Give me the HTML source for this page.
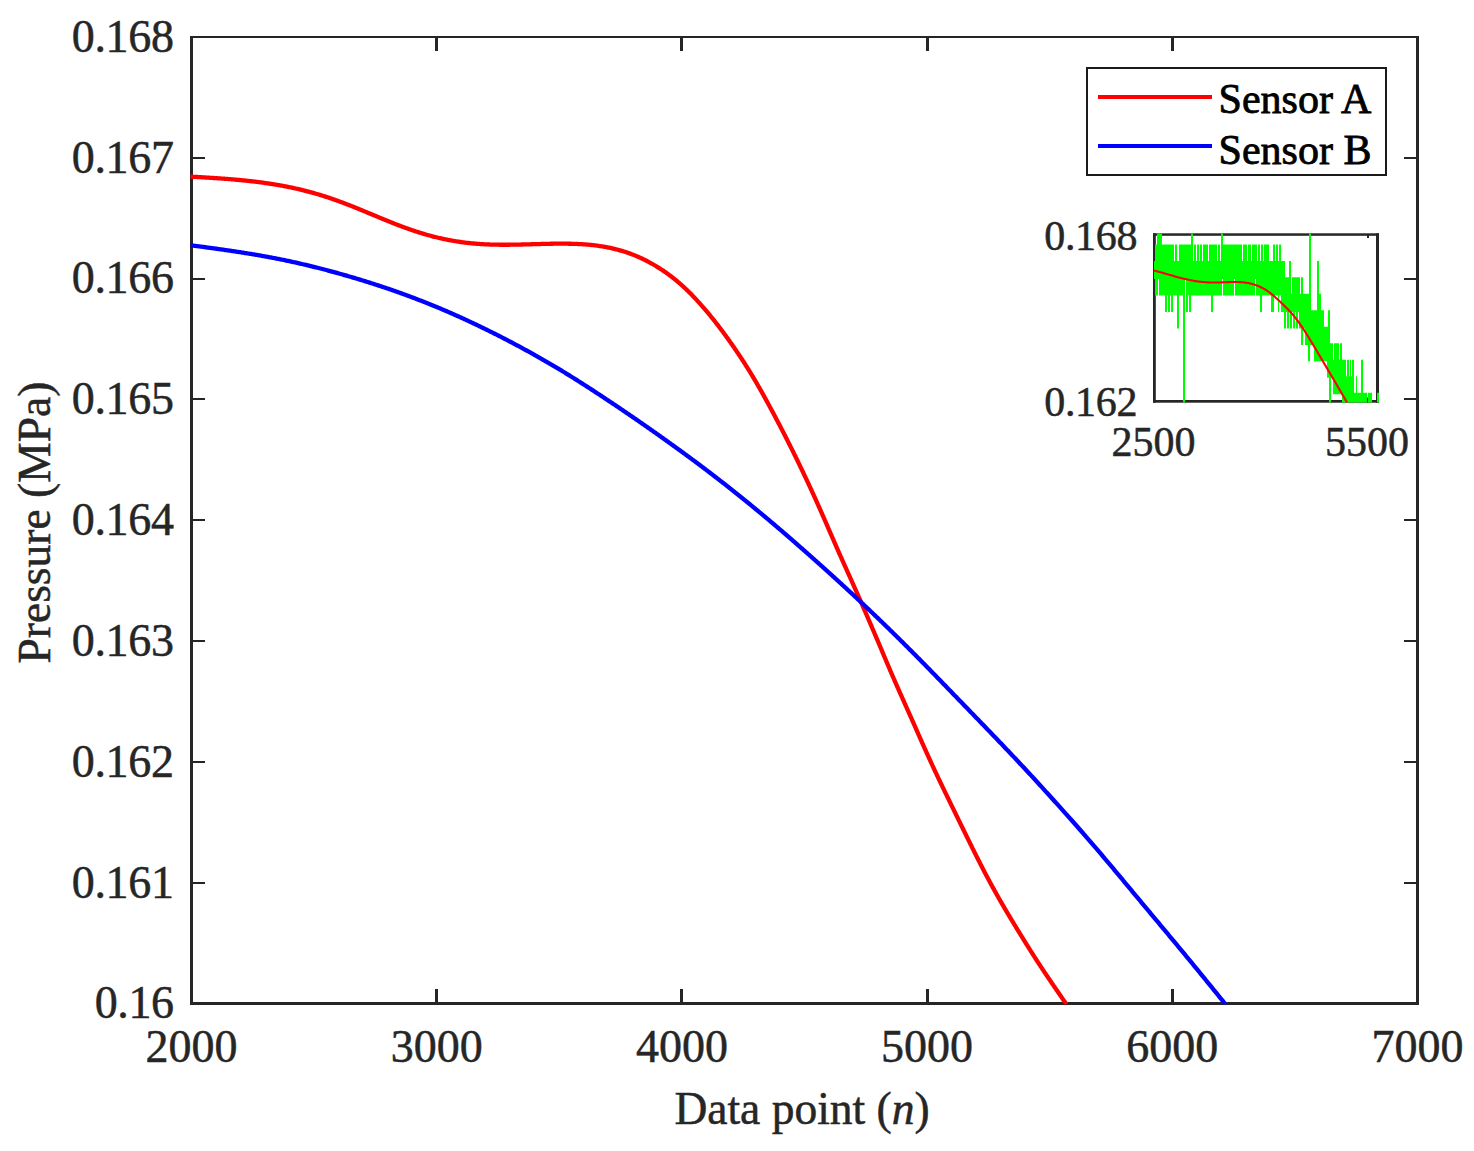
<!DOCTYPE html>
<html><head><meta charset="utf-8"><title>Pressure chart</title><style>
html,body{margin:0;padding:0;background:#fff;overflow:hidden;}
svg{display:block;}
text{font-family:"Liberation Serif",serif;}
</style></head><body>
<svg width="1474" height="1151" viewBox="0 0 1474 1151"><defs><clipPath id="ax"><rect x="190.6" y="36" width="1228" height="968.5"/></clipPath><clipPath id="ins"><rect x="1153" y="233.5" width="226" height="169"/></clipPath></defs><rect width="1474" height="1151" fill="#fff"/><g fill="#262626"><rect x="190" y="36" width="1229" height="2"/><rect x="190" y="1002" width="1229" height="3"/><rect x="190" y="36" width="3" height="969"/><rect x="1416" y="36" width="3" height="969"/><rect x="435" y="989" width="3" height="14"/><rect x="435" y="37" width="3" height="14"/><rect x="680" y="989" width="3" height="14"/><rect x="680" y="37" width="3" height="14"/><rect x="926" y="989" width="3" height="14"/><rect x="926" y="37" width="3" height="14"/><rect x="1171" y="989" width="3" height="14"/><rect x="1171" y="37" width="3" height="14"/><rect x="192" y="882" width="13" height="2"/><rect x="1404" y="882" width="13" height="2"/><rect x="192" y="761" width="13" height="2"/><rect x="1404" y="761" width="13" height="2"/><rect x="192" y="640" width="13" height="2"/><rect x="1404" y="640" width="13" height="2"/><rect x="192" y="519" width="13" height="2"/><rect x="1404" y="519" width="13" height="2"/><rect x="192" y="398" width="13" height="2"/><rect x="1404" y="398" width="13" height="2"/><rect x="192" y="278" width="13" height="2"/><rect x="1404" y="278" width="13" height="2"/><rect x="192" y="157" width="13" height="2"/><rect x="1404" y="157" width="13" height="2"/></g><g clip-path="url(#ax)" fill="none" stroke-width="4.3" stroke-linejoin="round"><polyline points="185.00,176.67 191.52,176.67 192.52,176.73 193.52,176.79 194.52,176.84 195.52,176.90 196.52,176.96 197.52,177.02 198.52,177.07 199.52,177.13 200.52,177.19 201.52,177.25 202.51,177.31 203.51,177.37 204.51,177.43 205.51,177.49 206.51,177.55 207.51,177.61 208.51,177.67 209.51,177.73 210.51,177.80 211.50,177.86 212.50,177.92 213.50,177.99 214.50,178.05 215.50,178.12 216.50,178.19 217.50,178.25 218.50,178.32 219.49,178.39 220.49,178.46 221.49,178.53 222.49,178.61 223.49,178.68 224.48,178.75 225.48,178.83 226.48,178.91 227.48,178.98 228.48,179.06 229.47,179.14 230.47,179.22 231.47,179.31 232.46,179.39 233.46,179.47 234.46,179.56 235.46,179.65 236.45,179.74 237.45,179.83 238.44,179.92 239.44,180.01 240.44,180.11 241.43,180.20 242.43,180.30 243.42,180.40 244.42,180.50 245.41,180.60 246.41,180.71 247.40,180.81 248.40,180.92 249.39,181.03 250.39,181.14 251.38,181.25 252.37,181.36 253.37,181.48 254.36,181.60 255.35,181.72 256.35,181.84 257.34,181.96 258.33,182.09 259.32,182.21 260.31,182.34 261.31,182.47 262.30,182.61 263.29,182.74 264.28,182.88 265.27,183.02 266.26,183.16 267.25,183.30 268.24,183.45 269.22,183.60 270.21,183.75 271.20,183.90 272.19,184.05 273.17,184.21 274.16,184.37 275.15,184.53 276.13,184.69 277.12,184.86 278.10,185.03 279.09,185.20 280.07,185.37 281.05,185.55 282.04,185.73 283.02,185.91 284.00,186.09 284.98,186.28 285.96,186.47 286.94,186.66 287.92,186.86 288.90,187.05 289.88,187.25 290.86,187.45 291.83,187.66 292.81,187.87 293.79,188.08 294.76,188.29 295.74,188.51 296.71,188.73 297.68,188.95 298.66,189.17 299.63,189.40 300.60,189.63 301.57,189.86 302.54,190.10 303.51,190.34 304.47,190.58 305.44,190.83 306.41,191.07 307.37,191.32 308.34,191.58 309.30,191.83 310.27,192.09 311.23,192.36 312.19,192.62 313.15,192.89 314.11,193.16 315.07,193.44 316.03,193.71 316.99,193.99 317.95,194.28 318.90,194.56 319.86,194.85 320.81,195.14 321.76,195.44 322.72,195.73 323.67,196.03 324.62,196.34 325.57,196.64 326.52,196.95 327.47,197.26 328.42,197.58 329.36,197.89 330.31,198.21 331.25,198.54 332.20,198.86 333.14,199.19 334.08,199.52 335.02,199.86 335.96,200.19 336.90,200.53 337.84,200.87 338.78,201.21 339.72,201.56 340.66,201.90 341.59,202.25 342.53,202.61 343.46,202.96 344.40,203.31 345.33,203.67 346.27,204.03 347.20,204.39 348.13,204.75 349.06,205.12 349.99,205.48 350.93,205.85 351.86,206.22 352.79,206.59 353.72,206.96 354.64,207.33 355.57,207.71 356.50,208.08 357.43,208.46 358.36,208.84 359.28,209.21 360.21,209.59 361.14,209.97 362.06,210.35 362.99,210.73 363.92,211.12 364.84,211.50 365.77,211.88 366.69,212.27 367.62,212.65 368.54,213.03 369.47,213.42 370.39,213.80 371.32,214.19 372.24,214.57 373.17,214.96 374.09,215.34 375.02,215.73 375.94,216.11 376.87,216.50 377.79,216.88 378.72,217.27 379.64,217.65 380.57,218.04 381.50,218.42 382.42,218.80 383.35,219.18 384.27,219.56 385.20,219.94 386.13,220.32 387.06,220.70 387.99,221.08 388.91,221.45 389.84,221.83 390.77,222.20 391.70,222.57 392.63,222.94 393.56,223.31 394.49,223.68 395.43,224.04 396.36,224.40 397.29,224.77 398.23,225.13 399.16,225.48 400.10,225.84 401.03,226.19 401.97,226.54 402.91,226.89 403.84,227.24 404.78,227.58 405.72,227.92 406.66,228.26 407.61,228.60 408.55,228.93 409.49,229.26 410.43,229.59 411.38,229.92 412.32,230.24 413.27,230.56 414.22,230.88 415.17,231.19 416.11,231.51 417.06,231.81 418.01,232.12 418.97,232.42 419.92,232.72 420.87,233.02 421.83,233.31 422.78,233.60 423.74,233.88 424.69,234.16 425.65,234.44 426.61,234.72 427.57,234.99 428.53,235.26 429.49,235.52 430.46,235.78 431.42,236.04 432.38,236.30 433.35,236.55 434.32,236.79 435.28,237.03 436.25,237.27 437.22,237.51 438.19,237.74 439.16,237.97 440.13,238.19 441.10,238.41 442.07,238.63 443.05,238.84 444.02,239.05 445.00,239.25 445.97,239.46 446.95,239.65 447.93,239.85 448.91,240.03 449.89,240.22 450.87,240.40 451.85,240.58 452.83,240.75 453.81,240.92 454.79,241.09 455.78,241.25 456.76,241.40 457.74,241.56 458.73,241.71 459.72,241.85 460.70,242.00 461.69,242.13 462.68,242.27 463.66,242.40 464.65,242.53 465.64,242.65 466.63,242.77 467.62,242.88 468.61,242.99 469.60,243.10 470.60,243.21 471.59,243.31 472.58,243.40 473.57,243.49 474.57,243.58 475.56,243.67 476.56,243.75 477.55,243.83 478.55,243.90 479.54,243.97 480.54,244.04 481.53,244.11 482.53,244.17 483.53,244.22 484.52,244.28 485.52,244.33 486.52,244.38 487.52,244.42 488.52,244.46 489.51,244.50 490.51,244.54 491.51,244.57 492.51,244.60 493.51,244.63 494.51,244.65 495.51,244.67 496.51,244.69 497.51,244.71 498.51,244.72 499.51,244.73 500.51,244.74 501.51,244.75 502.51,244.75 503.51,244.75 504.51,244.75 505.52,244.75 506.52,244.75 507.52,244.74 508.52,244.73 509.52,244.73 510.52,244.72 511.53,244.70 512.53,244.69 513.53,244.68 514.53,244.66 515.53,244.64 516.54,244.62 517.54,244.61 518.54,244.58 519.54,244.56 520.55,244.54 521.55,244.52 522.55,244.49 523.55,244.47 524.56,244.44 525.56,244.42 526.56,244.39 527.57,244.36 528.57,244.34 529.57,244.31 530.58,244.28 531.58,244.25 532.58,244.22 533.59,244.20 534.59,244.17 535.59,244.14 536.60,244.11 537.60,244.08 538.61,244.06 539.61,244.03 540.61,244.00 541.62,243.97 542.62,243.95 543.62,243.92 544.63,243.90 545.63,243.87 546.64,243.85 547.64,243.83 548.64,243.81 549.65,243.79 550.65,243.77 551.65,243.75 552.66,243.74 553.66,243.72 554.66,243.71 555.67,243.70 556.67,243.69 557.67,243.68 558.68,243.67 559.68,243.67 560.68,243.67 561.68,243.67 562.69,243.67 563.69,243.67 564.69,243.68 565.69,243.69 566.69,243.70 567.70,243.71 568.70,243.73 569.70,243.74 570.70,243.77 571.70,243.79 572.70,243.82 573.70,243.85 574.70,243.88 575.70,243.92 576.70,243.96 577.70,244.00 578.70,244.04 579.70,244.09 580.70,244.15 581.69,244.21 582.69,244.27 583.69,244.33 584.69,244.40 585.68,244.48 586.68,244.55 587.67,244.64 588.67,244.72 589.66,244.82 590.65,244.91 591.64,245.01 592.64,245.12 593.63,245.23 594.62,245.35 595.61,245.47 596.60,245.59 597.58,245.73 598.57,245.86 599.56,246.01 600.54,246.15 601.53,246.31 602.51,246.46 603.49,246.63 604.47,246.80 605.45,246.97 606.43,247.15 607.41,247.34 608.39,247.53 609.36,247.73 610.34,247.94 611.31,248.15 612.28,248.37 613.25,248.59 614.22,248.82 615.18,249.05 616.15,249.29 617.11,249.54 618.07,249.80 619.03,250.06 619.99,250.33 620.94,250.60 621.90,250.88 622.85,251.17 623.80,251.46 624.75,251.76 625.69,252.07 626.64,252.38 627.58,252.70 628.52,253.03 629.45,253.36 630.39,253.70 631.32,254.05 632.25,254.40 633.18,254.76 634.10,255.13 635.02,255.50 635.94,255.88 636.86,256.27 637.77,256.66 638.69,257.06 639.59,257.46 640.50,257.87 641.40,258.29 642.31,258.71 643.20,259.14 644.10,259.58 644.99,260.02 645.88,260.47 646.77,260.92 647.65,261.38 648.53,261.85 649.41,262.32 650.29,262.79 651.16,263.28 652.03,263.76 652.89,264.26 653.76,264.76 654.62,265.26 655.47,265.77 656.33,266.29 657.18,266.81 658.02,267.33 658.87,267.86 659.71,268.40 660.55,268.94 661.38,269.49 662.21,270.04 663.04,270.59 663.87,271.15 664.69,271.72 665.51,272.29 666.32,272.87 667.13,273.45 667.94,274.03 668.74,274.62 669.55,275.21 670.34,275.81 671.14,276.42 671.93,277.02 672.72,277.64 673.50,278.25 674.28,278.87 675.06,279.50 675.83,280.13 676.60,280.77 677.37,281.40 678.13,282.05 678.89,282.70 679.65,283.35 680.40,284.00 681.15,284.66 681.89,285.33 682.63,286.00 683.37,286.67 684.10,287.35 684.83,288.03 685.56,288.71 686.29,289.40 687.01,290.09 687.73,290.78 688.44,291.48 689.15,292.18 689.86,292.89 690.57,293.60 691.27,294.31 691.97,295.02 692.67,295.74 693.36,296.46 694.05,297.18 694.74,297.91 695.43,298.64 696.11,299.37 696.79,300.10 697.47,300.84 698.14,301.58 698.81,302.32 699.48,303.06 700.15,303.81 700.82,304.56 701.48,305.31 702.14,306.06 702.80,306.81 703.46,307.57 704.11,308.33 704.77,309.09 705.42,309.85 706.06,310.61 706.71,311.38 707.35,312.15 708.00,312.91 708.64,313.69 709.27,314.46 709.91,315.23 710.54,316.01 711.18,316.79 711.81,317.56 712.44,318.34 713.06,319.13 713.69,319.91 714.31,320.70 714.93,321.48 715.55,322.27 716.17,323.06 716.78,323.85 717.39,324.64 718.01,325.43 718.62,326.23 719.22,327.03 719.83,327.82 720.44,328.62 721.04,329.42 721.64,330.22 722.24,331.02 722.84,331.83 723.43,332.63 724.03,333.44 724.62,334.24 725.21,335.05 725.80,335.86 726.39,336.67 726.98,337.48 727.56,338.30 728.15,339.11 728.73,339.92 729.31,340.74 729.89,341.56 730.46,342.37 731.04,343.19 731.62,344.01 732.19,344.83 732.76,345.65 733.33,346.48 733.90,347.30 734.47,348.12 735.03,348.95 735.60,349.77 736.16,350.60 736.72,351.43 737.28,352.26 737.84,353.09 738.40,353.92 738.95,354.75 739.51,355.58 740.06,356.42 740.61,357.25 741.16,358.08 741.71,358.92 742.26,359.76 742.80,360.60 743.34,361.43 743.89,362.27 744.43,363.12 744.97,363.96 745.50,364.80 746.04,365.64 746.57,366.49 747.11,367.33 747.64,368.18 748.17,369.03 748.69,369.88 749.22,370.73 749.74,371.58 750.27,372.43 750.79,373.28 751.31,374.13 751.82,374.99 752.34,375.84 752.85,376.70 753.37,377.56 753.88,378.42 754.39,379.28 754.89,380.14 755.40,381.00 755.90,381.86 756.41,382.73 756.91,383.59 757.41,384.46 757.91,385.32 758.40,386.19 758.90,387.06 759.40,387.92 759.89,388.79 760.38,389.66 760.87,390.53 761.36,391.40 761.85,392.28 762.34,393.15 762.83,394.02 763.32,394.89 763.80,395.77 764.28,396.64 764.77,397.52 765.25,398.39 765.73,399.27 766.21,400.14 766.69,401.02 767.17,401.90 767.65,402.78 768.13,403.65 768.61,404.53 769.09,405.41 769.56,406.29 770.04,407.17 770.51,408.05 770.99,408.93 771.46,409.81 771.93,410.69 772.40,411.57 772.88,412.46 773.35,413.34 773.82,414.22 774.29,415.10 774.76,415.99 775.23,416.87 775.69,417.75 776.16,418.64 776.63,419.52 777.09,420.41 777.56,421.29 778.02,422.18 778.49,423.06 778.95,423.95 779.42,424.84 779.88,425.72 780.34,426.61 780.80,427.50 781.26,428.39 781.72,429.27 782.18,430.16 782.64,431.05 783.10,431.94 783.55,432.83 784.01,433.72 784.47,434.61 784.92,435.50 785.38,436.39 785.83,437.28 786.29,438.17 786.74,439.06 787.19,439.96 787.64,440.85 788.09,441.74 788.54,442.63 788.99,443.53 789.44,444.42 789.89,445.31 790.34,446.21 790.79,447.10 791.24,448.00 791.68,448.89 792.13,449.79 792.57,450.68 793.02,451.58 793.46,452.47 793.90,453.37 794.34,454.27 794.79,455.16 795.23,456.06 795.67,456.96 796.11,457.86 796.55,458.76 796.98,459.66 797.42,460.55 797.86,461.45 798.29,462.35 798.73,463.25 799.17,464.15 799.60,465.05 800.03,465.96 800.47,466.86 800.90,467.76 801.33,468.66 801.76,469.56 802.19,470.46 802.62,471.37 803.05,472.27 803.48,473.17 803.91,474.08 804.34,474.98 804.77,475.88 805.19,476.79 805.62,477.69 806.05,478.60 806.47,479.50 806.90,480.41 807.32,481.31 807.74,482.22 808.17,483.13 808.59,484.03 809.01,484.94 809.43,485.85 809.85,486.75 810.27,487.66 810.69,488.57 811.11,489.48 811.53,490.39 811.94,491.29 812.36,492.20 812.78,493.11 813.19,494.02 813.61,494.93 814.02,495.84 814.43,496.75 814.85,497.66 815.26,498.57 815.67,499.49 816.08,500.40 816.49,501.31 816.90,502.22 817.31,503.13 817.72,504.05 818.13,504.96 818.53,505.87 818.94,506.79 819.35,507.70 819.75,508.61 820.16,509.53 820.56,510.44 820.97,511.36 821.37,512.27 821.78,513.19 822.18,514.10 822.58,515.02 822.98,515.93 823.38,516.85 823.79,517.76 824.19,518.68 824.59,519.60 824.99,520.51 825.39,521.43 825.79,522.35 826.18,523.26 826.58,524.18 826.98,525.10 827.38,526.01 827.78,526.93 828.18,527.85 828.58,528.77 828.97,529.68 829.37,530.60 829.77,531.52 830.17,532.43 830.56,533.35 830.96,534.27 831.36,535.19 831.76,536.10 832.16,537.02 832.56,537.94 832.95,538.86 833.35,539.77 833.75,540.69 834.15,541.61 834.55,542.52 834.95,543.44 835.35,544.36 835.75,545.27 836.15,546.19 836.55,547.10 836.95,548.02 837.35,548.94 837.75,549.85 838.16,550.77 838.56,551.68 838.96,552.60 839.36,553.51 839.77,554.43 840.17,555.34 840.57,556.26 840.98,557.17 841.38,558.09 841.79,559.00 842.20,559.91 842.60,560.83 843.01,561.74 843.42,562.65 843.82,563.57 844.23,564.48 844.64,565.39 845.05,566.30 845.46,567.22 845.87,568.13 846.28,569.04 846.68,569.95 847.09,570.86 847.50,571.78 847.91,572.69 848.32,573.60 848.74,574.51 849.15,575.42 849.56,576.33 849.97,577.24 850.38,578.16 850.79,579.07 851.20,579.98 851.61,580.89 852.02,581.80 852.42,582.72 852.83,583.63 853.24,584.54 853.65,585.45 854.06,586.36 854.47,587.28 854.88,588.19 855.28,589.10 855.69,590.01 856.10,590.93 856.50,591.84 856.91,592.75 857.31,593.67 857.72,594.58 858.12,595.49 858.53,596.41 858.93,597.32 859.34,598.24 859.74,599.15 860.14,600.07 860.54,600.98 860.94,601.90 861.34,602.81 861.74,603.73 862.14,604.64 862.54,605.56 862.94,606.47 863.34,607.39 863.74,608.31 864.14,609.22 864.53,610.14 864.93,611.06 865.33,611.97 865.73,612.89 866.12,613.81 866.52,614.72 866.91,615.64 867.31,616.56 867.71,617.47 868.10,618.39 868.50,619.31 868.89,620.23 869.29,621.14 869.68,622.06 870.08,622.98 870.47,623.90 870.86,624.81 871.26,625.73 871.65,626.65 872.05,627.57 872.44,628.48 872.84,629.40 873.23,630.32 873.62,631.24 874.02,632.15 874.41,633.07 874.80,633.99 875.20,634.91 875.59,635.83 875.98,636.74 876.37,637.66 876.76,638.58 877.15,639.50 877.54,640.42 877.93,641.34 878.32,642.26 878.71,643.18 879.10,644.10 879.49,645.02 879.88,645.94 880.26,646.86 880.65,647.78 881.04,648.70 881.42,649.62 881.81,650.54 882.20,651.46 882.58,652.38 882.97,653.30 883.36,654.22 883.74,655.15 884.13,656.07 884.52,656.99 884.90,657.91 885.29,658.83 885.68,659.75 886.07,660.67 886.46,661.59 886.84,662.51 887.23,663.43 887.62,664.35 888.01,665.27 888.40,666.19 888.80,667.11 889.19,668.03 889.58,668.95 889.97,669.87 890.36,670.78 890.76,671.70 891.15,672.62 891.55,673.54 891.94,674.46 892.34,675.37 892.74,676.29 893.13,677.21 893.53,678.12 893.93,679.04 894.33,679.96 894.73,680.87 895.13,681.79 895.53,682.70 895.93,683.62 896.34,684.53 896.74,685.45 897.14,686.36 897.54,687.28 897.95,688.19 898.35,689.11 898.76,690.02 899.16,690.93 899.57,691.85 899.97,692.76 900.38,693.67 900.79,694.59 901.19,695.50 901.60,696.41 902.01,697.33 902.41,698.24 902.82,699.15 903.23,700.07 903.64,700.98 904.05,701.89 904.45,702.80 904.86,703.72 905.27,704.63 905.68,705.54 906.09,706.45 906.50,707.37 906.90,708.28 907.31,709.19 907.72,710.10 908.13,711.02 908.54,711.93 908.94,712.84 909.35,713.76 909.76,714.67 910.16,715.58 910.57,716.50 910.98,717.41 911.38,718.32 911.79,719.24 912.19,720.15 912.60,721.07 913.00,721.98 913.40,722.89 913.81,723.81 914.21,724.72 914.62,725.64 915.02,726.55 915.42,727.47 915.83,728.38 916.23,729.30 916.63,730.21 917.04,731.13 917.44,732.04 917.84,732.96 918.25,733.87 918.65,734.79 919.05,735.70 919.45,736.62 919.86,737.53 920.26,738.44 920.67,739.36 921.07,740.27 921.47,741.19 921.88,742.10 922.28,743.02 922.69,743.93 923.10,744.84 923.50,745.76 923.91,746.67 924.32,747.58 924.72,748.50 925.13,749.41 925.54,750.32 925.95,751.23 926.36,752.14 926.77,753.06 927.18,753.97 927.59,754.88 928.01,755.79 928.42,756.70 928.83,757.61 929.25,758.52 929.66,759.43 930.08,760.34 930.50,761.25 930.91,762.15 931.33,763.06 931.75,763.97 932.17,764.88 932.59,765.79 933.01,766.69 933.43,767.60 933.85,768.51 934.27,769.41 934.70,770.32 935.12,771.22 935.55,772.13 935.97,773.03 936.40,773.94 936.82,774.84 937.25,775.75 937.68,776.65 938.10,777.55 938.53,778.46 938.96,779.36 939.39,780.26 939.82,781.17 940.25,782.07 940.68,782.97 941.12,783.87 941.55,784.77 941.98,785.67 942.41,786.58 942.85,787.48 943.28,788.38 943.71,789.28 944.15,790.18 944.58,791.08 945.02,791.98 945.45,792.88 945.89,793.78 946.32,794.68 946.76,795.58 947.20,796.48 947.63,797.38 948.07,798.28 948.51,799.18 948.94,800.08 949.38,800.98 949.82,801.88 950.26,802.78 950.69,803.68 951.13,804.58 951.57,805.47 952.01,806.37 952.44,807.27 952.88,808.17 953.32,809.07 953.76,809.97 954.20,810.87 954.64,811.77 955.08,812.67 955.51,813.56 955.95,814.46 956.39,815.36 956.83,816.26 957.27,817.16 957.71,818.06 958.15,818.96 958.59,819.85 959.03,820.75 959.46,821.65 959.90,822.55 960.34,823.45 960.78,824.35 961.22,825.25 961.66,826.14 962.10,827.04 962.54,827.94 962.98,828.84 963.42,829.74 963.86,830.64 964.30,831.54 964.74,832.43 965.18,833.33 965.61,834.23 966.05,835.13 966.49,836.03 966.93,836.92 967.37,837.82 967.82,838.72 968.26,839.62 968.70,840.52 969.14,841.41 969.58,842.31 970.02,843.21 970.46,844.11 970.91,845.00 971.35,845.90 971.79,846.80 972.23,847.69 972.68,848.59 973.12,849.48 973.57,850.38 974.01,851.27 974.46,852.17 974.90,853.06 975.35,853.96 975.80,854.85 976.25,855.75 976.69,856.64 977.14,857.53 977.59,858.43 978.04,859.32 978.49,860.21 978.95,861.10 979.40,862.00 979.85,862.89 980.30,863.78 980.76,864.67 981.21,865.56 981.67,866.45 982.13,867.34 982.59,868.23 983.04,869.11 983.50,870.00 983.97,870.89 984.43,871.78 984.89,872.66 985.35,873.55 985.82,874.43 986.28,875.32 986.75,876.20 987.22,877.08 987.69,877.97 988.16,878.85 988.63,879.73 989.10,880.61 989.58,881.49 990.05,882.37 990.53,883.25 991.01,884.13 991.48,885.00 991.96,885.88 992.44,886.76 992.92,887.63 993.41,888.51 993.89,889.38 994.38,890.26 994.86,891.13 995.35,892.01 995.84,892.88 996.33,893.75 996.82,894.62 997.31,895.49 997.80,896.36 998.29,897.23 998.79,898.10 999.28,898.97 999.78,899.84 1000.27,900.70 1000.77,901.57 1001.27,902.44 1001.77,903.30 1002.27,904.17 1002.78,905.03 1003.28,905.90 1003.78,906.76 1004.29,907.62 1004.79,908.48 1005.30,909.35 1005.81,910.21 1006.31,911.07 1006.82,911.93 1007.33,912.79 1007.84,913.65 1008.35,914.51 1008.86,915.37 1009.38,916.23 1009.89,917.08 1010.40,917.94 1010.92,918.80 1011.43,919.66 1011.95,920.51 1012.46,921.37 1012.98,922.23 1013.50,923.08 1014.01,923.94 1014.53,924.79 1015.05,925.65 1015.57,926.50 1016.09,927.35 1016.61,928.21 1017.13,929.06 1017.65,929.91 1018.18,930.77 1018.70,931.62 1019.22,932.47 1019.74,933.32 1020.27,934.17 1020.79,935.03 1021.32,935.88 1021.84,936.73 1022.37,937.58 1022.89,938.43 1023.42,939.28 1023.94,940.13 1024.47,940.98 1025.00,941.83 1025.52,942.68 1026.05,943.52 1026.58,944.37 1027.11,945.22 1027.64,946.07 1028.17,946.91 1028.70,947.76 1029.23,948.61 1029.76,949.45 1030.29,950.30 1030.83,951.14 1031.36,951.99 1031.90,952.83 1032.43,953.68 1032.97,954.52 1033.51,955.36 1034.05,956.20 1034.59,957.04 1035.13,957.89 1035.67,958.73 1036.21,959.56 1036.75,960.40 1037.30,961.24 1037.84,962.08 1038.39,962.92 1038.93,963.75 1039.48,964.59 1040.03,965.43 1040.58,966.26 1041.13,967.09 1041.68,967.93 1042.23,968.76 1042.78,969.59 1043.34,970.43 1043.89,971.26 1044.45,972.09 1045.00,972.92 1045.56,973.75 1046.12,974.58 1046.68,975.41 1047.23,976.23 1047.79,977.06 1048.35,977.89 1048.91,978.72 1049.47,979.55 1050.04,980.37 1050.60,981.20 1051.16,982.03 1051.72,982.85 1052.29,983.68 1052.85,984.50 1053.41,985.33 1053.98,986.15 1054.54,986.98 1055.11,987.80 1055.67,988.63 1056.24,989.45 1056.80,990.28 1057.37,991.10 1057.93,991.93 1058.50,992.75 1059.06,993.57 1059.63,994.40 1060.20,995.22 1060.76,996.05 1061.33,996.87 1061.89,997.70 1062.46,998.52 1063.02,999.34 1063.59,1000.17 1064.15,1000.99 1064.72,1001.82 1065.28,1002.64 1065.85,1003.47 1066.41,1004.29 1066.54,1004.47" stroke="#ff0000"/><polyline points="185.00,245.38 191.67,245.38 192.66,245.51 193.65,245.65 194.64,245.78 195.64,245.91 196.63,246.05 197.62,246.18 198.61,246.31 199.60,246.45 200.59,246.58 201.58,246.71 202.57,246.85 203.56,246.98 204.55,247.12 205.54,247.25 206.53,247.39 207.53,247.52 208.52,247.66 209.51,247.79 210.50,247.93 211.49,248.07 212.48,248.20 213.47,248.34 214.46,248.48 215.45,248.62 216.44,248.75 217.43,248.89 218.42,249.03 219.41,249.17 220.40,249.31 221.39,249.45 222.38,249.59 223.37,249.74 224.36,249.88 225.35,250.02 226.34,250.16 227.33,250.31 228.32,250.45 229.30,250.60 230.29,250.74 231.28,250.89 232.27,251.04 233.26,251.19 234.25,251.33 235.24,251.48 236.22,251.63 237.21,251.78 238.20,251.94 239.19,252.09 240.18,252.24 241.16,252.40 242.15,252.55 243.14,252.71 244.12,252.86 245.11,253.02 246.10,253.18 247.09,253.34 248.07,253.50 249.06,253.66 250.04,253.82 251.03,253.98 252.02,254.15 253.00,254.31 253.99,254.48 254.97,254.64 255.96,254.81 256.94,254.98 257.93,255.15 258.91,255.32 259.90,255.49 260.88,255.66 261.86,255.84 262.85,256.01 263.83,256.19 264.81,256.37 265.80,256.54 266.78,256.72 267.76,256.90 268.74,257.09 269.73,257.27 270.71,257.45 271.69,257.64 272.67,257.83 273.65,258.01 274.63,258.20 275.61,258.39 276.59,258.58 277.57,258.78 278.55,258.97 279.53,259.17 280.51,259.36 281.49,259.56 282.47,259.76 283.45,259.96 284.43,260.16 285.41,260.37 286.38,260.57 287.36,260.78 288.34,260.98 289.32,261.19 290.29,261.40 291.27,261.61 292.25,261.82 293.22,262.04 294.20,262.25 295.17,262.47 296.15,262.68 297.12,262.90 298.10,263.12 299.07,263.34 300.05,263.56 301.02,263.79 301.99,264.01 302.97,264.24 303.94,264.47 304.91,264.69 305.88,264.92 306.86,265.15 307.83,265.39 308.80,265.62 309.77,265.86 310.74,266.09 311.71,266.33 312.68,266.57 313.65,266.81 314.62,267.05 315.59,267.29 316.56,267.53 317.53,267.78 318.50,268.02 319.47,268.27 320.44,268.52 321.40,268.77 322.37,269.02 323.34,269.27 324.31,269.52 325.27,269.78 326.24,270.03 327.21,270.29 328.17,270.55 329.14,270.81 330.10,271.06 331.07,271.33 332.03,271.59 333.00,271.85 333.96,272.11 334.93,272.38 335.89,272.65 336.85,272.91 337.82,273.18 338.78,273.45 339.74,273.72 340.70,273.99 341.67,274.26 342.63,274.54 343.59,274.81 344.55,275.09 345.51,275.36 346.47,275.64 347.43,275.92 348.39,276.20 349.35,276.48 350.31,276.76 351.27,277.04 352.23,277.33 353.19,277.61 354.15,277.90 355.11,278.18 356.06,278.47 357.02,278.76 357.98,279.05 358.94,279.34 359.89,279.63 360.85,279.92 361.81,280.21 362.76,280.51 363.72,280.80 364.67,281.10 365.63,281.39 366.58,281.69 367.54,281.99 368.49,282.29 369.44,282.59 370.40,282.90 371.35,283.20 372.30,283.50 373.26,283.81 374.21,284.11 375.16,284.42 376.11,284.73 377.06,285.04 378.01,285.35 378.96,285.66 379.91,285.97 380.86,286.29 381.81,286.60 382.76,286.92 383.71,287.24 384.66,287.55 385.60,287.87 386.55,288.19 387.50,288.51 388.44,288.84 389.39,289.16 390.34,289.49 391.28,289.81 392.23,290.14 393.17,290.47 394.12,290.80 395.06,291.13 396.00,291.46 396.95,291.79 397.89,292.12 398.83,292.46 399.77,292.80 400.71,293.13 401.65,293.47 402.59,293.81 403.53,294.15 404.47,294.49 405.41,294.84 406.35,295.18 407.29,295.53 408.23,295.87 409.16,296.22 410.10,296.57 411.04,296.92 411.97,297.27 412.91,297.62 413.84,297.98 414.78,298.33 415.71,298.69 416.65,299.05 417.58,299.41 418.51,299.76 419.45,300.13 420.38,300.49 421.31,300.85 422.24,301.22 423.17,301.58 424.10,301.95 425.03,302.32 425.96,302.68 426.89,303.05 427.82,303.43 428.74,303.80 429.67,304.17 430.60,304.55 431.52,304.92 432.45,305.30 433.37,305.68 434.30,306.06 435.22,306.44 436.15,306.82 437.07,307.21 437.99,307.59 438.92,307.98 439.84,308.36 440.76,308.75 441.68,309.14 442.60,309.53 443.52,309.92 444.44,310.31 445.36,310.71 446.28,311.10 447.20,311.50 448.11,311.89 449.03,312.29 449.95,312.69 450.86,313.09 451.78,313.49 452.69,313.90 453.61,314.30 454.52,314.70 455.44,315.11 456.35,315.52 457.26,315.93 458.18,316.33 459.09,316.74 460.00,317.16 460.91,317.57 461.82,317.98 462.73,318.40 463.64,318.81 464.55,319.23 465.46,319.65 466.36,320.06 467.27,320.48 468.18,320.90 469.09,321.33 469.99,321.75 470.90,322.17 471.80,322.60 472.71,323.02 473.61,323.45 474.52,323.88 475.42,324.31 476.32,324.74 477.22,325.17 478.13,325.60 479.03,326.03 479.93,326.46 480.83,326.90 481.73,327.34 482.63,327.77 483.53,328.21 484.43,328.65 485.33,329.09 486.22,329.53 487.12,329.97 488.02,330.41 488.91,330.85 489.81,331.30 490.70,331.74 491.60,332.19 492.49,332.64 493.39,333.08 494.28,333.53 495.18,333.98 496.07,334.43 496.96,334.88 497.85,335.34 498.74,335.79 499.63,336.24 500.53,336.70 501.42,337.15 502.31,337.61 503.19,338.07 504.08,338.53 504.97,338.98 505.86,339.44 506.75,339.90 507.63,340.37 508.52,340.83 509.41,341.29 510.29,341.76 511.18,342.22 512.06,342.69 512.95,343.15 513.83,343.62 514.71,344.09 515.60,344.56 516.48,345.03 517.36,345.50 518.24,345.97 519.12,346.44 520.00,346.92 520.88,347.39 521.76,347.87 522.64,348.34 523.52,348.82 524.40,349.30 525.27,349.78 526.15,350.26 527.03,350.74 527.90,351.22 528.78,351.70 529.65,352.19 530.53,352.67 531.40,353.16 532.27,353.64 533.15,354.13 534.02,354.62 534.89,355.10 535.76,355.59 536.63,356.08 537.50,356.58 538.37,357.07 539.24,357.56 540.11,358.06 540.98,358.55 541.85,359.05 542.71,359.54 543.58,360.04 544.45,360.54 545.31,361.04 546.18,361.54 547.04,362.04 547.90,362.54 548.77,363.05 549.63,363.55 550.49,364.06 551.35,364.56 552.21,365.07 553.07,365.58 553.93,366.09 554.79,366.60 555.65,367.11 556.51,367.62 557.37,368.13 558.22,368.65 559.08,369.16 559.94,369.68 560.79,370.19 561.65,370.71 562.50,371.23 563.35,371.75 564.21,372.27 565.06,372.79 565.91,373.31 566.76,373.84 567.61,374.36 568.46,374.89 569.31,375.41 570.16,375.94 571.01,376.47 571.86,376.99 572.71,377.52 573.55,378.05 574.40,378.58 575.25,379.12 576.09,379.65 576.94,380.18 577.78,380.71 578.63,381.25 579.47,381.78 580.31,382.32 581.16,382.86 582.00,383.39 582.84,383.93 583.68,384.47 584.53,385.01 585.37,385.55 586.21,386.09 587.05,386.63 587.89,387.17 588.73,387.71 589.57,388.26 590.41,388.80 591.24,389.34 592.08,389.89 592.92,390.43 593.76,390.98 594.59,391.53 595.43,392.07 596.27,392.62 597.10,393.17 597.94,393.72 598.78,394.27 599.61,394.81 600.45,395.36 601.28,395.91 602.11,396.47 602.95,397.02 603.78,397.57 604.62,398.12 605.45,398.67 606.28,399.23 607.11,399.78 607.95,400.33 608.78,400.89 609.61,401.44 610.44,402.00 611.27,402.55 612.11,403.11 612.94,403.66 613.77,404.22 614.60,404.78 615.43,405.33 616.26,405.89 617.09,406.45 617.92,407.01 618.75,407.57 619.58,408.12 620.40,408.68 621.23,409.24 622.06,409.80 622.89,410.36 623.72,410.92 624.54,411.49 625.37,412.05 626.20,412.61 627.02,413.17 627.85,413.74 628.68,414.30 629.50,414.86 630.33,415.43 631.15,415.99 631.98,416.56 632.80,417.12 633.63,417.69 634.45,418.25 635.28,418.82 636.10,419.39 636.92,419.95 637.75,420.52 638.57,421.09 639.39,421.66 640.21,422.23 641.04,422.80 641.86,423.37 642.68,423.94 643.50,424.51 644.32,425.08 645.14,425.65 645.96,426.22 646.78,426.79 647.60,427.37 648.42,427.94 649.24,428.51 650.06,429.09 650.88,429.66 651.69,430.24 652.51,430.81 653.33,431.39 654.15,431.96 654.97,432.54 655.78,433.12 656.60,433.69 657.42,434.27 658.23,434.85 659.05,435.43 659.86,436.00 660.68,436.58 661.49,437.16 662.31,437.74 663.12,438.32 663.94,438.90 664.75,439.48 665.57,440.06 666.38,440.64 667.19,441.22 668.01,441.81 668.82,442.39 669.63,442.97 670.45,443.55 671.26,444.14 672.07,444.72 672.88,445.31 673.69,445.89 674.50,446.48 675.31,447.06 676.12,447.65 676.93,448.23 677.74,448.82 678.55,449.41 679.36,449.99 680.17,450.58 680.98,451.17 681.79,451.76 682.60,452.35 683.40,452.94 684.21,453.53 685.02,454.12 685.82,454.71 686.63,455.30 687.44,455.89 688.24,456.49 689.05,457.08 689.85,457.67 690.66,458.27 691.46,458.86 692.26,459.45 693.07,460.05 693.87,460.65 694.67,461.24 695.47,461.84 696.28,462.44 697.08,463.03 697.88,463.63 698.68,464.23 699.48,464.83 700.28,465.43 701.08,466.03 701.88,466.63 702.68,467.23 703.47,467.83 704.27,468.44 705.07,469.04 705.87,469.64 706.66,470.25 707.46,470.85 708.26,471.46 709.05,472.06 709.85,472.67 710.64,473.28 711.44,473.88 712.23,474.49 713.02,475.10 713.82,475.71 714.61,476.32 715.40,476.93 716.19,477.54 716.98,478.15 717.77,478.76 718.56,479.37 719.35,479.99 720.14,480.60 720.93,481.21 721.72,481.83 722.51,482.44 723.30,483.06 724.09,483.67 724.87,484.29 725.66,484.91 726.45,485.52 727.23,486.14 728.02,486.76 728.80,487.38 729.59,488.00 730.37,488.62 731.16,489.24 731.94,489.86 732.72,490.48 733.51,491.10 734.29,491.73 735.07,492.35 735.85,492.97 736.63,493.60 737.41,494.22 738.19,494.85 738.97,495.47 739.75,496.10 740.53,496.72 741.31,497.35 742.09,497.98 742.87,498.61 743.65,499.23 744.42,499.86 745.20,500.49 745.98,501.12 746.75,501.75 747.53,502.38 748.30,503.01 749.08,503.65 749.85,504.28 750.63,504.91 751.40,505.54 752.18,506.18 752.95,506.81 753.72,507.45 754.49,508.08 755.27,508.72 756.04,509.35 756.81,509.99 757.58,510.62 758.35,511.26 759.12,511.90 759.89,512.54 760.66,513.18 761.43,513.81 762.20,514.45 762.96,515.09 763.73,515.73 764.50,516.38 765.27,517.02 766.03,517.66 766.80,518.30 767.56,518.94 768.33,519.59 769.09,520.23 769.86,520.87 770.62,521.52 771.39,522.16 772.15,522.81 772.91,523.46 773.68,524.10 774.44,524.75 775.20,525.40 775.96,526.04 776.72,526.69 777.48,527.34 778.25,527.99 779.01,528.64 779.77,529.29 780.52,529.94 781.28,530.59 782.04,531.24 782.80,531.89 783.56,532.55 784.32,533.20 785.07,533.85 785.83,534.50 786.59,535.16 787.34,535.81 788.10,536.47 788.85,537.12 789.61,537.78 790.36,538.43 791.12,539.09 791.87,539.74 792.63,540.40 793.38,541.06 794.13,541.72 794.89,542.37 795.64,543.03 796.39,543.69 797.14,544.35 797.90,545.01 798.65,545.67 799.40,546.33 800.15,546.99 800.90,547.65 801.65,548.31 802.40,548.97 803.15,549.63 803.90,550.29 804.65,550.95 805.40,551.61 806.15,552.27 806.90,552.94 807.65,553.60 808.40,554.26 809.15,554.93 809.90,555.59 810.64,556.25 811.39,556.92 812.14,557.58 812.89,558.25 813.63,558.91 814.38,559.57 815.13,560.24 815.87,560.91 816.62,561.57 817.37,562.24 818.11,562.90 818.86,563.57 819.60,564.24 820.35,564.90 821.09,565.57 821.84,566.24 822.58,566.91 823.32,567.58 824.07,568.24 824.81,568.91 825.55,569.58 826.30,570.25 827.04,570.92 827.78,571.59 828.52,572.26 829.27,572.93 830.01,573.60 830.75,574.27 831.49,574.95 832.23,575.62 832.97,576.29 833.71,576.96 834.45,577.63 835.19,578.31 835.93,578.98 836.67,579.65 837.41,580.33 838.15,581.00 838.88,581.68 839.62,582.35 840.36,583.03 841.10,583.70 841.83,584.38 842.57,585.05 843.31,585.73 844.04,586.41 844.78,587.08 845.52,587.76 846.25,588.44 846.98,589.12 847.72,589.80 848.45,590.47 849.19,591.15 849.92,591.83 850.65,592.51 851.39,593.19 852.12,593.87 852.85,594.55 853.58,595.24 854.32,595.92 855.05,596.60 855.78,597.28 856.51,597.96 857.24,598.65 857.97,599.33 858.70,600.01 859.43,600.70 860.16,601.38 860.89,602.07 861.61,602.75 862.34,603.44 863.07,604.12 863.80,604.81 864.53,605.49 865.25,606.18 865.98,606.87 866.70,607.56 867.43,608.24 868.16,608.93 868.88,609.62 869.61,610.31 870.33,611.00 871.06,611.69 871.78,612.38 872.50,613.07 873.23,613.76 873.95,614.45 874.67,615.14 875.39,615.83 876.12,616.52 876.84,617.21 877.56,617.90 878.28,618.60 879.00,619.29 879.72,619.98 880.44,620.68 881.16,621.37 881.88,622.06 882.60,622.76 883.32,623.45 884.04,624.15 884.76,624.84 885.47,625.54 886.19,626.24 886.91,626.93 887.63,627.63 888.34,628.33 889.06,629.02 889.78,629.72 890.49,630.42 891.21,631.12 891.92,631.82 892.64,632.52 893.35,633.22 894.06,633.92 894.78,634.62 895.49,635.32 896.20,636.02 896.92,636.72 897.63,637.42 898.34,638.12 899.05,638.83 899.76,639.53 900.47,640.23 901.18,640.93 901.89,641.64 902.60,642.34 903.31,643.05 904.02,643.75 904.73,644.46 905.44,645.16 906.15,645.87 906.86,646.57 907.56,647.28 908.27,647.99 908.98,648.69 909.68,649.40 910.39,650.11 911.10,650.81 911.80,651.52 912.51,652.23 913.21,652.94 913.92,653.65 914.62,654.36 915.33,655.07 916.03,655.78 916.73,656.49 917.44,657.20 918.14,657.91 918.84,658.62 919.54,659.33 920.25,660.04 920.95,660.76 921.65,661.47 922.35,662.18 923.05,662.89 923.75,663.61 924.45,664.32 925.15,665.03 925.85,665.75 926.55,666.46 927.25,667.18 927.95,667.89 928.65,668.61 929.35,669.32 930.04,670.04 930.74,670.75 931.44,671.47 932.14,672.18 932.84,672.90 933.53,673.62 934.23,674.33 934.93,675.05 935.62,675.77 936.32,676.48 937.02,677.20 937.71,677.92 938.41,678.64 939.11,679.35 939.80,680.07 940.50,680.79 941.19,681.51 941.89,682.22 942.59,682.94 943.28,683.66 943.98,684.38 944.67,685.10 945.37,685.81 946.06,686.53 946.76,687.25 947.46,687.97 948.15,688.69 948.85,689.40 949.54,690.12 950.24,690.84 950.93,691.56 951.63,692.28 952.32,693.00 953.02,693.72 953.71,694.43 954.41,695.15 955.10,695.87 955.80,696.59 956.49,697.31 957.19,698.03 957.89,698.74 958.58,699.46 959.28,700.18 959.97,700.90 960.67,701.62 961.36,702.34 962.06,703.06 962.75,703.77 963.45,704.49 964.14,705.21 964.84,705.93 965.53,706.65 966.23,707.37 966.92,708.09 967.62,708.80 968.32,709.52 969.01,710.24 969.71,710.96 970.40,711.68 971.10,712.40 971.79,713.12 972.49,713.83 973.18,714.55 973.88,715.27 974.57,715.99 975.27,716.71 975.96,717.43 976.66,718.15 977.35,718.86 978.05,719.58 978.74,720.30 979.44,721.02 980.13,721.74 980.83,722.46 981.52,723.18 982.21,723.90 982.91,724.62 983.60,725.34 984.30,726.06 984.99,726.78 985.69,727.50 986.38,728.22 987.07,728.94 987.77,729.66 988.46,730.38 989.15,731.10 989.85,731.82 990.54,732.54 991.23,733.26 991.93,733.98 992.62,734.70 993.31,735.42 994.00,736.14 994.69,736.86 995.39,737.58 996.08,738.30 996.77,739.03 997.46,739.75 998.15,740.47 998.84,741.19 999.53,741.91 1000.23,742.64 1000.92,743.36 1001.61,744.08 1002.30,744.80 1002.99,745.53 1003.67,746.25 1004.36,746.97 1005.05,747.70 1005.74,748.42 1006.43,749.15 1007.12,749.87 1007.81,750.60 1008.49,751.32 1009.18,752.05 1009.87,752.77 1010.56,753.50 1011.24,754.22 1011.93,754.95 1012.62,755.67 1013.30,756.40 1013.99,757.13 1014.67,757.85 1015.36,758.58 1016.04,759.31 1016.73,760.04 1017.41,760.76 1018.10,761.49 1018.78,762.22 1019.46,762.95 1020.15,763.68 1020.83,764.41 1021.51,765.13 1022.20,765.86 1022.88,766.59 1023.56,767.32 1024.24,768.05 1024.92,768.79 1025.60,769.52 1026.28,770.25 1026.96,770.98 1027.64,771.71 1028.32,772.44 1029.00,773.18 1029.68,773.91 1030.36,774.64 1031.03,775.37 1031.71,776.11 1032.39,776.84 1033.07,777.58 1033.74,778.31 1034.42,779.05 1035.09,779.78 1035.77,780.52 1036.44,781.25 1037.12,781.99 1037.79,782.72 1038.47,783.46 1039.14,784.20 1039.81,784.94 1040.49,785.67 1041.16,786.41 1041.83,787.15 1042.51,787.89 1043.18,788.62 1043.85,789.36 1044.52,790.10 1045.19,790.84 1045.87,791.58 1046.54,792.32 1047.21,793.06 1047.88,793.80 1048.55,794.54 1049.22,795.28 1049.89,796.02 1050.56,796.76 1051.23,797.50 1051.90,798.24 1052.57,798.98 1053.24,799.72 1053.91,800.46 1054.58,801.20 1055.25,801.94 1055.92,802.68 1056.59,803.42 1057.25,804.17 1057.92,804.91 1058.59,805.65 1059.26,806.39 1059.93,807.13 1060.59,807.88 1061.26,808.62 1061.93,809.36 1062.60,810.11 1063.26,810.85 1063.93,811.59 1064.60,812.34 1065.26,813.08 1065.93,813.83 1066.59,814.57 1067.26,815.31 1067.92,816.06 1068.59,816.81 1069.25,817.55 1069.91,818.30 1070.58,819.04 1071.24,819.79 1071.90,820.54 1072.57,821.28 1073.23,822.03 1073.89,822.78 1074.55,823.53 1075.21,824.28 1075.87,825.03 1076.53,825.77 1077.20,826.52 1077.85,827.27 1078.51,828.02 1079.17,828.77 1079.83,829.52 1080.49,830.28 1081.15,831.03 1081.81,831.78 1082.46,832.53 1083.12,833.28 1083.78,834.04 1084.43,834.79 1085.09,835.54 1085.75,836.30 1086.40,837.05 1087.06,837.80 1087.71,838.56 1088.36,839.31 1089.02,840.07 1089.67,840.82 1090.33,841.58 1090.98,842.33 1091.63,843.09 1092.28,843.85 1092.93,844.61 1093.59,845.36 1094.24,846.12 1094.89,846.88 1095.54,847.64 1096.19,848.40 1096.84,849.15 1097.49,849.91 1098.13,850.67 1098.78,851.43 1099.43,852.19 1100.08,852.95 1100.73,853.71 1101.37,854.48 1102.02,855.24 1102.67,856.00 1103.31,856.76 1103.96,857.52 1104.60,858.29 1105.25,859.05 1105.89,859.81 1106.54,860.57 1107.18,861.34 1107.83,862.10 1108.47,862.87 1109.11,863.63 1109.76,864.39 1110.40,865.16 1111.04,865.92 1111.68,866.69 1112.33,867.46 1112.97,868.22 1113.61,868.99 1114.25,869.75 1114.89,870.52 1115.53,871.29 1116.17,872.05 1116.81,872.82 1117.45,873.59 1118.09,874.36 1118.73,875.12 1119.37,875.89 1120.01,876.66 1120.65,877.43 1121.29,878.19 1121.93,878.96 1122.57,879.73 1123.21,880.50 1123.85,881.27 1124.48,882.04 1125.12,882.80 1125.76,883.57 1126.40,884.34 1127.04,885.11 1127.68,885.88 1128.32,886.65 1128.96,887.41 1129.59,888.18 1130.23,888.95 1130.87,889.72 1131.51,890.49 1132.15,891.26 1132.79,892.02 1133.43,892.79 1134.07,893.56 1134.71,894.33 1135.35,895.10 1135.99,895.86 1136.63,896.63 1137.27,897.40 1137.91,898.17 1138.55,898.94 1139.19,899.70 1139.83,900.47 1140.47,901.24 1141.11,902.01 1141.75,902.77 1142.39,903.54 1143.03,904.31 1143.67,905.08 1144.31,905.84 1144.95,906.61 1145.59,907.38 1146.23,908.14 1146.87,908.91 1147.51,909.68 1148.15,910.45 1148.79,911.21 1149.43,911.98 1150.08,912.75 1150.72,913.51 1151.36,914.28 1152.00,915.05 1152.64,915.82 1153.28,916.58 1153.92,917.35 1154.56,918.12 1155.20,918.88 1155.84,919.65 1156.49,920.42 1157.13,921.18 1157.77,921.95 1158.41,922.72 1159.05,923.49 1159.69,924.25 1160.33,925.02 1160.97,925.79 1161.61,926.55 1162.26,927.32 1162.90,928.09 1163.54,928.86 1164.18,929.62 1164.82,930.39 1165.46,931.16 1166.10,931.93 1166.74,932.69 1167.38,933.46 1168.02,934.23 1168.66,935.00 1169.30,935.76 1169.94,936.53 1170.58,937.30 1171.22,938.07 1171.86,938.84 1172.50,939.60 1173.14,940.37 1173.78,941.14 1174.42,941.91 1175.06,942.68 1175.70,943.45 1176.34,944.22 1176.98,944.98 1177.62,945.75 1178.25,946.52 1178.89,947.29 1179.53,948.06 1180.17,948.83 1180.81,949.60 1181.44,950.37 1182.08,951.14 1182.72,951.91 1183.36,952.68 1183.99,953.45 1184.63,954.22 1185.27,954.99 1185.91,955.76 1186.54,956.54 1187.18,957.31 1187.81,958.08 1188.45,958.85 1189.09,959.62 1189.72,960.39 1190.36,961.16 1190.99,961.94 1191.63,962.71 1192.26,963.48 1192.90,964.25 1193.53,965.02 1194.17,965.80 1194.80,966.57 1195.44,967.34 1196.07,968.12 1196.70,968.89 1197.34,969.66 1197.97,970.44 1198.61,971.21 1199.24,971.98 1199.87,972.76 1200.50,973.53 1201.14,974.30 1201.77,975.08 1202.40,975.85 1203.03,976.63 1203.67,977.40 1204.30,978.18 1204.93,978.95 1205.56,979.73 1206.19,980.50 1206.82,981.28 1207.45,982.05 1208.09,982.83 1208.72,983.60 1209.35,984.38 1209.98,985.16 1210.61,985.93 1211.24,986.71 1211.87,987.48 1212.50,988.26 1213.13,989.04 1213.76,989.81 1214.39,990.59 1215.02,991.36 1215.65,992.14 1216.28,992.92 1216.91,993.69 1217.54,994.47 1218.17,995.25 1218.80,996.02 1219.42,996.80 1220.05,997.58 1220.68,998.36 1221.31,999.13 1221.94,999.91 1222.57,1000.69 1223.20,1001.46 1223.83,1002.24 1224.46,1003.02 1225.09,1003.80 1225.40,1004.19" stroke="#0000ff"/></g><g font-family="Liberation Serif, serif" font-size="46" fill="#262626" stroke="#262626" stroke-width="0.5"><text x="174" y="1018.3" text-anchor="end" textLength="79.3" lengthAdjust="spacing">0.16</text><text x="174" y="897.5" text-anchor="end" textLength="102.3" lengthAdjust="spacing">0.161</text><text x="174" y="776.7" text-anchor="end" textLength="102.3" lengthAdjust="spacing">0.162</text><text x="174" y="655.9" text-anchor="end" textLength="102.3" lengthAdjust="spacing">0.163</text><text x="174" y="535.0" text-anchor="end" textLength="102.3" lengthAdjust="spacing">0.164</text><text x="174" y="414.2" text-anchor="end" textLength="102.3" lengthAdjust="spacing">0.165</text><text x="174" y="293.4" text-anchor="end" textLength="102.3" lengthAdjust="spacing">0.166</text><text x="174" y="172.6" text-anchor="end" textLength="102.3" lengthAdjust="spacing">0.167</text><text x="174" y="51.8" text-anchor="end" textLength="102.3" lengthAdjust="spacing">0.168</text><text x="191.5" y="1062" text-anchor="middle">2000</text><text x="436.7" y="1062" text-anchor="middle">3000</text><text x="681.9" y="1062" text-anchor="middle">4000</text><text x="927.1" y="1062" text-anchor="middle">5000</text><text x="1172.3" y="1062" text-anchor="middle">6000</text><text x="1417.5" y="1062" text-anchor="middle">7000</text><text x="802" y="1124" font-size="45.5" text-anchor="middle">Data point (<tspan font-style="italic">n</tspan>)</text><text transform="translate(50,522.6) rotate(-90)" font-size="45.5" text-anchor="middle">Pressure (MPa)</text></g><rect x="1087" y="68" width="299" height="107" fill="#fff" stroke="#1a1a1a" stroke-width="2"/><rect x="1098" y="95" width="114" height="4" fill="#ff0000"/><rect x="1098" y="144" width="114" height="4" fill="#0000ff"/><g font-family="Liberation Serif, serif" font-size="42" fill="#000" stroke="#000" stroke-width="0.8"><text x="1218.6" y="113.4">Sensor A</text><text x="1218.6" y="164.2">Sensor B</text></g><rect x="1153" y="233.3" width="226" height="169.5" fill="#fff"/><g fill="#262626"><rect x="1153" y="233.3" width="226" height="2.5"/><rect x="1153" y="400" width="226" height="2.7"/><rect x="1153" y="233.3" width="2.8" height="169.4"/><rect x="1376" y="233.3" width="3" height="169.4"/><rect x="1367" y="235" width="2" height="3"/><rect x="1367" y="397.5" width="2" height="3"/></g><g clip-path="url(#ins)"><path fill="#00ff00" d="M1154 260.9V278.9h1V260.9zM1155 244.4V295.4h1V244.4zM1156 244.4V295.4h1V244.4zM1157 227.9V295.4h1V227.9zM1158 227.9V278.9h1V227.9zM1159 227.9V295.4h1V227.9zM1160 227.9V295.4h1V227.9zM1161 227.9V295.4h1V227.9zM1162 244.4V295.4h1V244.4zM1163 244.4V295.4h1V244.4zM1164 244.4V295.4h1V244.4zM1165 244.4V311.9h1V244.4zM1166 244.4V311.9h1V244.4zM1167 244.4V295.4h1V244.4zM1168 244.4V311.9h1V244.4zM1169 244.4V311.9h1V244.4zM1170 244.4V295.4h1V244.4zM1171 244.4V311.9h1V244.4zM1172 244.4V311.9h1V244.4zM1173 244.4V295.4h1V244.4zM1174 260.9V295.4h1V260.9zM1175 244.4V295.4h1V244.4zM1176 244.4V295.4h1V244.4zM1177 260.9V328.4h1V260.9zM1178 260.9V328.4h1V260.9zM1179 244.4V295.4h1V244.4zM1180 244.4V295.4h1V244.4zM1181 244.4V295.4h1V244.4zM1182 244.4V295.4h1V244.4zM1183 244.4V410.8h1V244.4zM1184 244.4V410.8h1V244.4zM1185 244.4V278.9h1V244.4zM1186 244.4V311.9h1V244.4zM1187 244.4V311.9h1V244.4zM1188 244.4V295.4h1V244.4zM1189 244.4V311.9h1V244.4zM1190 244.4V311.9h1V244.4zM1191 227.9V295.4h1V227.9zM1192 227.9V295.4h1V227.9zM1193 260.9V295.4h1V260.9zM1194 244.4V295.4h1V244.4zM1195 244.4V295.4h1V244.4zM1196 260.9V295.4h1V260.9zM1197 244.4V295.4h1V244.4zM1198 244.4V295.4h1V244.4zM1199 260.9V295.4h1V260.9zM1200 244.4V295.4h1V244.4zM1201 244.4V295.4h1V244.4zM1202 260.9V295.4h1V260.9zM1203 244.4V295.4h1V244.4zM1204 244.4V295.4h1V244.4zM1205 244.4V295.4h1V244.4zM1206 244.4V295.4h1V244.4zM1207 244.4V295.4h1V244.4zM1208 260.9V295.4h1V260.9zM1209 244.4V295.4h1V244.4zM1210 244.4V295.4h1V244.4zM1211 244.4V311.9h1V244.4zM1212 244.4V311.9h1V244.4zM1213 244.4V295.4h1V244.4zM1214 244.4V295.4h1V244.4zM1215 244.4V295.4h1V244.4zM1216 244.4V295.4h1V244.4zM1217 260.9V295.4h1V260.9zM1218 244.4V295.4h1V244.4zM1219 244.4V295.4h1V244.4zM1220 260.9V295.4h1V260.9zM1221 227.9V295.4h1V227.9zM1222 227.9V278.9h1V227.9zM1223 244.4V295.4h1V244.4zM1224 244.4V295.4h1V244.4zM1225 244.4V295.4h1V244.4zM1226 244.4V295.4h1V244.4zM1227 244.4V295.4h1V244.4zM1228 244.4V295.4h1V244.4zM1229 244.4V295.4h1V244.4zM1230 244.4V295.4h1V244.4zM1231 244.4V295.4h1V244.4zM1232 244.4V295.4h1V244.4zM1233 244.4V295.4h1V244.4zM1234 244.4V278.9h1V244.4zM1235 244.4V295.4h1V244.4zM1236 244.4V295.4h1V244.4zM1237 244.4V295.4h1V244.4zM1238 244.4V295.4h1V244.4zM1239 244.4V295.4h1V244.4zM1240 244.4V295.4h1V244.4zM1241 244.4V295.4h1V244.4zM1242 260.9V295.4h1V260.9zM1243 244.4V295.4h1V244.4zM1244 244.4V295.4h1V244.4zM1245 244.4V295.4h1V244.4zM1246 244.4V295.4h1V244.4zM1247 260.9V295.4h1V260.9zM1248 244.4V295.4h1V244.4zM1249 244.4V295.4h1V244.4zM1250 244.4V295.4h1V244.4zM1251 260.9V295.4h1V260.9zM1252 244.4V295.4h1V244.4zM1253 244.4V295.4h1V244.4zM1254 244.4V295.4h1V244.4zM1255 244.4V278.9h1V244.4zM1256 244.4V295.4h1V244.4zM1257 260.9V295.4h1V260.9zM1258 244.4V295.4h1V244.4zM1259 244.4V295.4h1V244.4zM1260 260.9V311.9h1V260.9zM1261 244.4V311.9h1V244.4zM1262 244.4V295.4h1V244.4zM1263 260.9V295.4h1V260.9zM1264 244.4V295.4h1V244.4zM1265 244.4V295.4h1V244.4zM1266 244.4V295.4h1V244.4zM1267 244.4V295.4h1V244.4zM1268 244.4V295.4h1V244.4zM1269 260.9V295.4h1V260.9zM1270 260.9V295.4h1V260.9zM1271 260.9V311.9h1V260.9zM1272 260.9V311.9h1V260.9zM1273 244.4V311.9h1V244.4zM1274 244.4V295.4h1V244.4zM1275 260.9V295.4h1V260.9zM1276 244.4V295.4h1V244.4zM1277 244.4V295.4h1V244.4zM1278 260.9V311.9h1V260.9zM1279 244.4V295.4h1V244.4zM1280 244.4V295.4h1V244.4zM1281 260.9V311.9h1V260.9zM1282 260.9V311.9h1V260.9zM1283 260.9V311.9h1V260.9zM1284 260.9V328.4h1V260.9zM1285 277.3V328.4h1V277.3zM1286 277.3V311.9h1V277.3zM1287 277.3V328.4h1V277.3zM1288 277.3V328.4h1V277.3zM1289 260.9V311.9h1V260.9zM1290 260.9V328.4h1V260.9zM1291 293.8V328.4h1V293.8zM1292 277.3V311.9h1V277.3zM1293 277.3V328.4h1V277.3zM1294 277.3V328.4h1V277.3zM1295 277.3V311.9h1V277.3zM1296 277.3V328.4h1V277.3zM1297 277.3V328.4h1V277.3zM1298 277.3V311.9h1V277.3zM1299 277.3V328.4h1V277.3zM1300 293.8V328.4h1V293.8zM1301 277.3V344.9h1V277.3zM1302 277.3V344.9h1V277.3zM1303 293.8V328.4h1V293.8zM1304 293.8V328.4h1V293.8zM1305 293.8V344.9h1V293.8zM1306 293.8V344.9h1V293.8zM1307 293.8V344.9h1V293.8zM1308 293.8V361.3h1V293.8zM1309 227.9V361.3h1V227.9zM1310 227.9V344.9h1V227.9zM1311 310.3V344.9h1V310.3zM1312 310.3V344.9h1V310.3zM1313 310.3V344.9h1V310.3zM1314 310.3V361.3h1V310.3zM1315 310.3V361.3h1V310.3zM1316 310.3V361.3h1V310.3zM1317 260.9V361.3h1V260.9zM1318 260.9V361.3h1V260.9zM1319 293.8V361.3h1V293.8zM1320 293.8V361.3h1V293.8zM1321 310.3V361.3h1V310.3zM1322 310.3V361.3h1V310.3zM1323 310.3V361.3h1V310.3zM1324 326.8V361.3h1V326.8zM1325 326.8V361.3h1V326.8zM1326 326.8V361.3h1V326.8zM1327 326.8V377.8h1V326.8zM1328 310.3V377.8h1V310.3zM1329 310.3V410.8h1V310.3zM1330 343.3V410.8h1V343.3zM1331 343.3V377.8h1V343.3zM1332 343.3V377.8h1V343.3zM1333 359.7V394.3h1V359.7zM1334 343.3V394.3h1V343.3zM1335 343.3V394.3h1V343.3zM1336 343.3V394.3h1V343.3zM1337 343.3V394.3h1V343.3zM1338 343.3V394.3h1V343.3zM1339 359.7V394.3h1V359.7zM1340 343.3V394.3h1V343.3zM1341 343.3V394.3h1V343.3zM1342 359.7V410.8h1V359.7zM1343 359.7V410.8h1V359.7zM1344 359.7V410.8h1V359.7zM1345 359.7V410.8h1V359.7zM1346 376.2V410.8h1V376.2zM1347 359.7V410.8h1V359.7zM1348 359.7V410.8h1V359.7zM1349 376.2V410.8h1V376.2zM1350 359.7V410.8h1V359.7zM1351 376.2V410.8h1V376.2zM1352 359.7V410.8h1V359.7zM1353 359.7V410.8h1V359.7zM1354 392.7V410.8h1V392.7zM1355 392.7V410.8h1V392.7zM1356 376.2V410.8h1V376.2zM1357 392.7V410.8h1V392.7zM1358 392.7V410.8h1V392.7zM1359 392.7V410.8h1V392.7zM1360 392.7V410.8h1V392.7zM1361 359.7V410.8h1V359.7zM1362 359.7V410.8h1V359.7zM1363 392.7V410.8h1V392.7zM1364 392.7V410.8h1V392.7zM1365 392.7V410.8h1V392.7zM1366 392.7V410.8h1V392.7zM1368 392.7V410.8h1V392.7zM1369 392.7V410.8h1V392.7zM1370 392.7V410.8h1V392.7zM1371 392.7V410.8h1V392.7zM1377 392.7V410.8h1V392.7zM1378 392.7V410.8h1V392.7z"/><polyline points="1153.84,270.41 1154.81,270.67 1155.77,270.93 1156.73,271.19 1157.69,271.45 1158.66,271.72 1159.62,271.99 1160.58,272.26 1161.54,272.53 1162.49,272.81 1163.45,273.09 1164.41,273.37 1165.37,273.65 1166.33,273.93 1167.29,274.21 1168.25,274.49 1169.21,274.76 1170.17,275.04 1171.13,275.32 1172.09,275.59 1173.05,275.86 1174.02,276.12 1174.98,276.39 1175.94,276.65 1176.91,276.91 1177.88,277.17 1178.84,277.43 1179.81,277.68 1180.78,277.93 1181.75,278.18 1182.72,278.42 1183.69,278.66 1184.66,278.90 1185.64,279.13 1186.61,279.35 1187.59,279.57 1188.56,279.78 1189.54,279.99 1190.52,280.19 1191.50,280.39 1192.48,280.58 1193.46,280.76 1194.45,280.93 1195.43,281.09 1196.42,281.25 1197.40,281.39 1198.39,281.53 1199.38,281.66 1200.37,281.77 1201.37,281.88 1202.36,281.98 1203.35,282.07 1204.35,282.15 1205.34,282.23 1206.34,282.29 1207.34,282.34 1208.33,282.39 1209.33,282.43 1210.33,282.46 1211.33,282.48 1212.33,282.50 1213.33,282.51 1214.33,282.51 1215.33,282.51 1216.33,282.50 1217.34,282.48 1218.34,282.46 1219.34,282.44 1220.35,282.41 1221.35,282.38 1222.35,282.34 1223.36,282.30 1224.36,282.26 1225.37,282.23 1226.37,282.19 1227.38,282.15 1228.38,282.11 1229.39,282.08 1230.39,282.05 1231.40,282.02 1232.40,282.00 1233.40,281.99 1234.41,281.98 1235.41,281.98 1236.41,281.99 1237.41,282.01 1238.41,282.04 1239.41,282.08 1240.41,282.14 1241.40,282.20 1242.40,282.28 1243.39,282.38 1244.38,282.49 1245.37,282.62 1246.35,282.76 1247.33,282.92 1248.31,283.09 1249.29,283.28 1250.26,283.49 1251.23,283.72 1252.19,283.97 1253.14,284.24 1254.09,284.52 1255.04,284.83 1255.98,285.15 1256.91,285.49 1257.83,285.85 1258.75,286.23 1259.65,286.63 1260.55,287.05 1261.44,287.49 1262.33,287.94 1263.20,288.42 1264.06,288.91 1264.92,289.41 1265.77,289.93 1266.61,290.47 1267.43,291.03 1268.25,291.59 1269.06,292.18 1269.87,292.77 1270.66,293.38 1271.44,294.00 1272.22,294.63 1272.99,295.27 1273.76,295.92 1274.51,296.57 1275.26,297.24 1276.01,297.91 1276.75,298.58 1277.49,299.26 1278.23,299.94 1278.96,300.63 1279.69,301.31 1280.42,302.00 1281.15,302.70 1281.87,303.39 1282.60,304.09 1283.32,304.79 1284.03,305.49 1284.75,306.19 1285.46,306.90 1286.17,307.61 1286.87,308.32 1287.57,309.03 1288.27,309.75 1288.96,310.48 1289.64,311.20 1290.32,311.94 1291.00,312.67 1291.66,313.42 1292.33,314.16 1292.98,314.92 1293.63,315.68 1294.27,316.44 1294.90,317.21 1295.52,317.99 1296.14,318.77 1296.75,319.56 1297.36,320.36 1297.95,321.15 1298.54,321.96 1299.12,322.77 1299.70,323.58 1300.27,324.40 1300.84,325.23 1301.40,326.05 1301.95,326.88 1302.51,327.72 1303.05,328.55 1303.60,329.39 1304.14,330.23 1304.68,331.08 1305.21,331.92 1305.75,332.77 1306.28,333.62 1306.81,334.46 1307.34,335.31 1307.87,336.16 1308.39,337.02 1308.92,337.87 1309.44,338.72 1309.96,339.58 1310.48,340.43 1311.00,341.29 1311.52,342.14 1312.03,343.00 1312.55,343.86 1313.07,344.72 1313.58,345.58 1314.09,346.43 1314.61,347.29 1315.12,348.15 1315.63,349.01 1316.14,349.87 1316.65,350.73 1317.16,351.59 1317.67,352.46 1318.18,353.32 1318.69,354.18 1319.20,355.04 1319.71,355.90 1320.22,356.76 1320.72,357.62 1321.23,358.48 1321.74,359.35 1322.25,360.21 1322.76,361.07 1323.26,361.93 1323.77,362.79 1324.28,363.65 1324.78,364.52 1325.29,365.38 1325.80,366.24 1326.31,367.10 1326.81,367.96 1327.32,368.83 1327.83,369.69 1328.33,370.55 1328.84,371.41 1329.35,372.27 1329.85,373.14 1330.36,374.00 1330.87,374.86 1331.38,375.72 1331.88,376.58 1332.39,377.45 1332.90,378.31 1333.40,379.17 1333.91,380.03 1334.42,380.89 1334.92,381.76 1335.43,382.62 1335.94,383.48 1336.44,384.34 1336.95,385.20 1337.45,386.07 1337.96,386.93 1338.47,387.79 1338.97,388.65 1339.48,389.52 1339.98,390.38 1340.49,391.24 1340.99,392.11 1341.50,392.97 1342.00,393.83 1342.51,394.70 1343.01,395.56 1343.51,396.42 1344.02,397.29 1344.52,398.15 1345.02,399.02 1345.52,399.88 1346.02,400.75 1346.53,401.61 1347.03,402.48 1347.03,402.48" fill="none" stroke="#ff0000" stroke-width="2.1"/></g><g font-family="Liberation Serif, serif" font-size="42" fill="#262626" stroke="#262626" stroke-width="0.5"><text x="1137.5" y="249.8" text-anchor="end" textLength="93.3" lengthAdjust="spacing">0.168</text><text x="1137.5" y="416" text-anchor="end" textLength="93.3" lengthAdjust="spacing">0.162</text><text x="1153.6" y="456.2" text-anchor="middle">2500</text><text x="1367" y="456.2" text-anchor="middle">5500</text></g></svg>
</body></html>
